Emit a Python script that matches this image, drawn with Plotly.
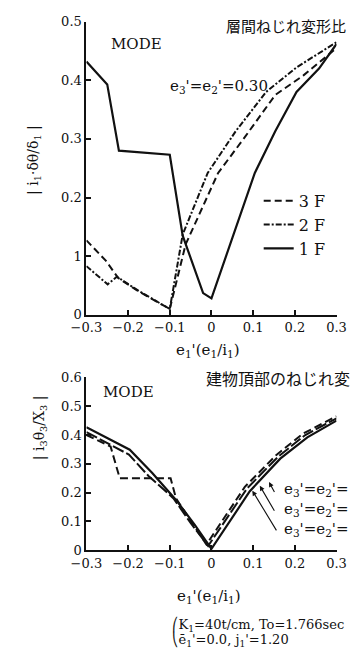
import plotly.graph_objects as go

W, H = 353, 657

# ---- upper panel: storey torsional deformation ratio -----------------
x_1f = [-0.3, -0.25, -0.222, -0.1, -0.069, -0.02, 0.0, 0.104, 0.153, 0.204, 0.258, 0.3]
y_1f = [0.432, 0.393, 0.28, 0.273, 0.135, 0.037, 0.028, 0.242, 0.313, 0.38, 0.42, 0.462]

x_2f = [-0.3, -0.249, -0.227, -0.173, -0.1, -0.069, -0.009, 0.058, 0.131, 0.204, 0.3]
y_2f = [0.083, 0.052, 0.065, 0.04, 0.01, 0.137, 0.242, 0.313, 0.38, 0.422, 0.465]

x_3f = [-0.3, -0.253, -0.224, -0.175, -0.1, -0.062, 0.016, 0.08, 0.153, 0.22, 0.3]
y_3f = [0.127, 0.092, 0.063, 0.04, 0.01, 0.12, 0.242, 0.303, 0.375, 0.408, 0.455]

# ---- lower panel: torsion ratio at the top of the building -----------
x_top_a = [-0.3, -0.242, -0.22, -0.098, -0.085, -0.012, 0.08, 0.155, 0.22, 0.3]
y_top_a = [0.40, 0.36, 0.25, 0.25, 0.18, 0.02, 0.22, 0.33, 0.405, 0.465]

x_top_b = [-0.3, -0.198, -0.151, -0.091, -0.05, -0.008, 0.085, 0.16, 0.225, 0.3]
y_top_b = [0.41, 0.332, 0.258, 0.18, 0.095, 0.015, 0.214, 0.325, 0.40, 0.458]

x_top_c = [-0.3, -0.196, -0.142, -0.084, -0.04, 0.0, 0.092, 0.165, 0.23, 0.3]
y_top_c = [0.427, 0.349, 0.268, 0.173, 0.088, 0.005, 0.205, 0.318, 0.392, 0.45]

x_ticks = [-0.3, -0.2, -0.1, 0.0, 0.1, 0.2, 0.3]
x_tick_text = ["\u22120.3", "\u22120.2", "\u22120.1", "0", "0.1", "0.2", "0.3"]
y1_ticks = [0.0, 0.1, 0.2, 0.3, 0.4, 0.5]
y1_tick_text = ["0", "1", "0.2", "0.3", "0.4", "0.5"]
y2_ticks = [0.0, 0.1, 0.2, 0.3, 0.4, 0.5, 0.6]
y2_tick_text = ["0", "0.1", "0.2", "0.3", "0.4", "0.5", "0.6"]

SERIF = "DejaVu Serif"
CJK = "Noto Sans CJK JP"
INK = "#111111"


def px(x):
    return x / W


def py(y):
    return 1 - y / H


fig = go.Figure()

fig.add_trace(go.Scatter(x=x_3f, y=y_3f, mode="lines", name="3 F",
                         line=dict(color=INK, width=2, dash="7px,4px"),
                         xaxis="x", yaxis="y"))
fig.add_trace(go.Scatter(x=x_2f, y=y_2f, mode="lines", name="2 F",
                         line=dict(color=INK, width=2, dash="6px,2px,2px,2px"),
                         xaxis="x", yaxis="y"))
fig.add_trace(go.Scatter(x=x_1f, y=y_1f, mode="lines", name="1 F",
                         line=dict(color=INK, width=2.2),
                         xaxis="x", yaxis="y"))

fig.add_trace(go.Scatter(x=x_top_a, y=y_top_a, mode="lines", showlegend=False,
                         line=dict(color=INK, width=2, dash="8px,4px"),
                         xaxis="x2", yaxis="y2"))
fig.add_trace(go.Scatter(x=x_top_b, y=y_top_b, mode="lines", showlegend=False,
                         line=dict(color=INK, width=2, dash="12px,3px"),
                         xaxis="x2", yaxis="y2"))
fig.add_trace(go.Scatter(x=x_top_c, y=y_top_c, mode="lines", showlegend=False,
                         line=dict(color=INK, width=2.2),
                         xaxis="x2", yaxis="y2"))

x_dom = [px(76), px(346)]
axis_common = dict(showline=True, linecolor=INK, linewidth=2, mirror=False,
                   showgrid=False, zeroline=False, ticks="inside", ticklen=5,
                   tickwidth=1.5, tickcolor=INK, ticklabeloverflow="allow",
                   tickfont=dict(family=SERIF, size=13, color=INK))

fig.update_layout(
    width=W, height=H,
    margin=dict(l=0, r=0, t=0, b=0),
    paper_bgcolor="white", plot_bgcolor="white",
    xaxis=dict(domain=x_dom, range=[-0.3, 0.3], anchor="y",
               tickvals=x_ticks, ticktext=x_tick_text, **axis_common),
    yaxis=dict(domain=[py(315), py(15)], range=[0, 0.5], anchor="x",
               tickvals=y1_ticks, ticktext=y1_tick_text, **axis_common),
    xaxis2=dict(domain=x_dom, range=[-0.3, 0.3], anchor="y2",
                tickvals=x_ticks, ticktext=x_tick_text, **axis_common),
    yaxis2=dict(domain=[py(556), py(379)], range=[0, 0.6], anchor="x2",
                tickvals=y2_ticks, ticktext=y2_tick_text, **axis_common),
    legend=dict(x=px(262), y=py(181), xanchor="left", yanchor="top",
                bgcolor="rgba(0,0,0,0)", tracegroupgap=0,
                font=dict(family=SERIF, size=16, color=INK)),
    showlegend=True,
)

ann = []


def text(x, y, s, size=15, family=SERIF, xanchor="left", angle=0):
    ann.append(dict(x=px(x), y=py(y), xref="paper", yref="paper", text=s,
                    showarrow=False, xanchor=xanchor, yanchor="middle",
                    textangle=angle,
                    font=dict(family=family, size=size, color=INK)))


# upper panel texts
text(100, 38, "MODE", size=15)
text(224, 19, "層間ねじれ変形比", size=15, family=CJK)
text(164, 81, "e<sub>3</sub>'=e<sub>2</sub>'=0.30", size=15)
text(207, 352, "e<sub>1</sub>'(e<sub>1</sub>/i<sub>1</sub>)", size=15, xanchor="center")
text(20, 157, "| i<sub>1</sub>·δθ/δ<sub>1</sub> |", size=14, xanchor="center", angle=-90)

# lower panel texts
text(92, 394, "MODE", size=15)
text(203, 380, "建物頂部のねじれ変", size=16, family=CJK)
text(26, 431, "| i<sub>3</sub>θ<sub>3</sub>/X<sub>3</sub> |", size=14, xanchor="center", angle=-90)
text(208, 603, "e<sub>1</sub>'(e<sub>1</sub>/i<sub>1</sub>)", size=15, xanchor="center")
text(287, 494, "e<sub>3</sub>'=e<sub>2</sub>'=", size=15)
text(287, 514, "e<sub>3</sub>'=e<sub>2</sub>'=", size=15)
text(287, 535, "e<sub>3</sub>'=e<sub>2</sub>'=", size=15)
text(166, 632, "⎛K<sub>1</sub>=40t/cm, To=1.766sec", size=13)
text(166, 648, "⎝ē<sub>1</sub>'=0.0, j<sub>1</sub>'=1.20", size=13)

# leader arrows from the lower-panel labels to their curves
arrows = [((0.153, 0.197), (0.138, 0.237)),
          ((0.153, 0.132), (0.116, 0.224)),
          ((0.158, 0.064), (0.098, 0.207))]
for (tx, ty), (hx, hy) in arrows:
    ann.append(dict(x=hx, y=hy, ax=tx, ay=ty, xref="x2", yref="y2",
                    axref="x2", ayref="y2", text="", showarrow=True,
                    arrowhead=2, arrowsize=0.9, arrowwidth=1.1,
                    arrowcolor=INK))

fig.update_layout(annotations=ann)

fig.write_html("out.html")
